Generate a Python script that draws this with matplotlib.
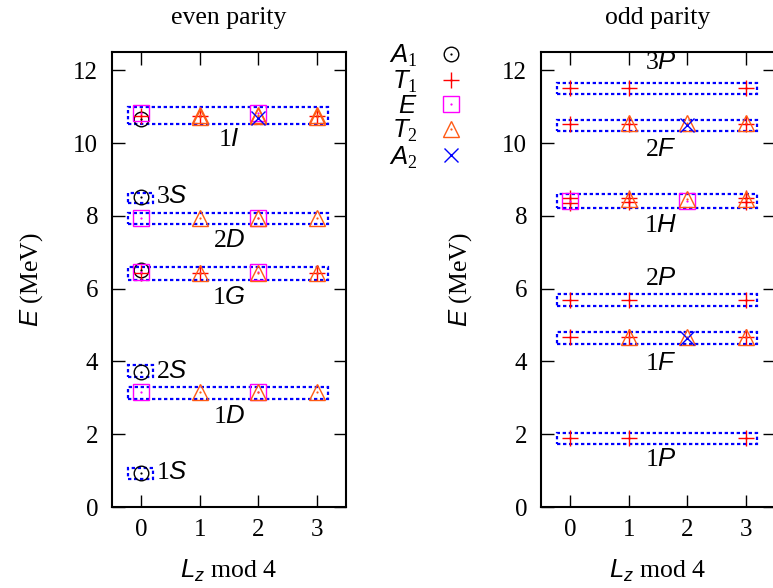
import matplotlib
matplotlib.use('Agg')
import matplotlib.pyplot as plt
from matplotlib.patches import Rectangle

plt.rcParams.update({
    'font.family': ['Liberation Serif', 'DejaVu Serif'],
    'mathtext.fontset': 'custom',
    'mathtext.rm': 'Liberation Serif',
    'mathtext.it': 'Liberation Sans:italic',
    'mathtext.bf': 'Liberation Serif:bold',
    'mathtext.sf': 'Liberation Sans',
    'font.size': 18,
})

# ---------------- data ----------------
irreps = ['A1', 'T1', 'E', 'T2', 'A2']
irrep_labels = ['$A_1$', '$T_1$', '$E$', '$T_2$', '$A_2$']
x_ticks = [0, 1, 2, 3]
y_ticks = [0, 2, 4, 6, 8, 10, 12]

# even parity: (Lz mod 4, energy in MeV)
even_A1_x = [0, 0, 0, 0, 0]
even_A1_E = [0.94, 3.72, 6.50, 8.52, 10.65]
even_T1_x = [0, 1, 3, 0, 1, 3]
even_T1_E = [6.42, 6.42, 6.42, 10.73, 10.73, 10.73]
even_E_x = [0, 2, 0, 2, 0, 2, 0, 2]
even_E_E = [3.15, 3.15, 6.45, 6.45, 7.95, 7.95, 10.83, 10.83]
even_T2_x = [1, 2, 3, 1, 2, 3, 1, 2, 3, 1, 2, 3, 1, 2, 3]
even_T2_E = [3.15, 3.15, 3.15, 6.42, 6.43, 6.42, 7.95, 7.95, 7.95,
             10.72, 10.74, 10.72, 10.76, 10.76, 10.76]
even_A2_x = [2]
even_A2_E = [10.70]

# odd parity
odd_A1_x = []
odd_A1_E = []
odd_T1_x = [0, 1, 3, 0, 1, 3, 0, 1, 3, 0, 1, 3, 0, 1, 3, 0, 1, 3, 0, 1, 3]
odd_T1_E = [1.90, 1.90, 1.90, 4.66, 4.66, 4.66, 5.68, 5.68, 5.68,
             8.50, 8.50, 8.50, 8.36, 8.38, 8.38, 10.52, 10.52, 10.52,
             11.52, 11.52, 11.52]
odd_E_x = [0, 2]
odd_E_E = [8.42, 8.42]
odd_T2_x = [1, 2, 3, 1, 2, 3, 1, 2, 3]
odd_T2_E = [4.68, 4.68, 4.68, 8.45, 8.45, 8.45, 10.54, 10.54, 10.54]
odd_A2_x = [2, 2]
odd_A2_E = [4.64, 10.50]

# multiplet names and their box ranges (energy)
even_names = ['1S', '2S', '1D', '1G', '2D', '3S', '1I']
even_box_lo = [0.77, 3.56, 2.98, 6.23, 7.78, 8.36, 10.51]
even_box_hi = [1.08, 3.89, 3.31, 6.59, 8.08, 8.63, 11.00]
even_box_xmax = [0.2, 0.2, 3.2, 3.2, 3.2, 0.2, 3.2]

odd_names = ['1P', '1F', '2P', '1H', '2F', '3P']
odd_box_lo = [1.74, 4.47, 5.52, 8.22, 10.32, 11.34]
odd_box_hi = [2.04, 4.80, 5.85, 8.61, 10.62, 11.64]
odd_box_xmax = [3.2, 3.2, 3.2, 3.2, 3.2, 3.2]

# ---------------- layout / style ----------------
W, H = 773, 588
fig = plt.figure(figsize=(W / 100, H / 100), dpi=100)
axL = fig.add_axes([112 / W, 81 / H, 234 / W, 455 / H])
axR = fig.add_axes([541 / W, 81 / H, 234 / W, 455 / H])

styles = {
    'A1': dict(marker='o', color='black', ms=10.5),
    'T1': dict(marker='+', color='#ff0000', ms=11.5),
    'E':  dict(marker='s', color='#ff00ff', ms=11.0),
    'T2': dict(marker='^', color='#ff5a14', ms=11.5),
    'A2': dict(marker='x', color='#0000ff', ms=10.5),
}

# label positions (layout): x, y, ha
even_label_pos = {'1S': (0.25, 0.94, 'left'), '2S': (0.25, 3.72, 'left'),
                  '1D': (1.5, 2.48, 'center'), '1G': (1.5, 5.74, 'center'),
                  '2D': (1.5, 7.31, 'center'), '3S': (0.25, 8.52, 'left'),
                  '1I': (1.5, 10.07, 'center')}
odd_label_pos = {'1P': (1.55, 1.30, 'center'), '1F': (1.55, 3.92, 'center'),
                 '2P': (1.55, 6.26, 'center'), '1H': (1.55, 7.72, 'center'),
                 '2F': (1.55, 9.82, 'center'), '3P': (1.55, 12.19, 'center')}


def draw(ax, series, names, lo, hi, xmax, label_pos, title):
    for n, a, b, xm in zip(names, lo, hi, xmax):
        ax.add_patch(Rectangle((-0.22, a), xm + 0.22, b - a, fill=False,
                               edgecolor='#0000ff', lw=1.6,
                               linestyle=(0, (1.5, 1.2)), zorder=2))
    handles = []
    for irr in irreps:
        xs, es = series[irr]
        st = styles[irr]
        h1, = ax.plot(xs, es, ls='none', marker=st['marker'], ms=st['ms'],
                      mfc='none', mec=st['color'], mew=1.0, zorder=3)
        h2, = ax.plot(xs, es, ls='none', marker='o', ms=1.6,
                      mfc=st['color'], mec=st['color'], mew=0, zorder=4)
        handles.append((h1, h2))
    for n in names:
        x, y, ha = label_pos[n]
        ax.text(x, y, r'$%s\mathit{%s}$' % (n[0], n[1]), ha=ha, va='center',
                fontsize=18.5)
    ax.set_xlim(-0.5, 3.5)
    ax.set_ylim(0, 12.5)
    ax.set_xticks(x_ticks)
    ax.set_yticks(y_ticks)
    ax.tick_params(direction='in', top=True, right=True, length=9,
                   width=1.0, labelsize=18)
    ax.tick_params(axis='x', pad=9)
    ax.tick_params(axis='y', pad=10)
    for s in ax.spines.values():
        s.set_linewidth(1.5)
    ax.set_xlabel('$L_z$ mod 4', fontsize=18.5, labelpad=12)
    ax.set_ylabel('$E$ (MeV)', fontsize=18.5, labelpad=20)
    ax.set_title(title, fontsize=18.5, pad=20)
    return handles


even_series = {'A1': (even_A1_x, even_A1_E), 'T1': (even_T1_x, even_T1_E),
               'E': (even_E_x, even_E_E), 'T2': (even_T2_x, even_T2_E),
               'A2': (even_A2_x, even_A2_E)}
odd_series = {'A1': (odd_A1_x, odd_A1_E), 'T1': (odd_T1_x, odd_T1_E),
              'E': (odd_E_x, odd_E_E), 'T2': (odd_T2_x, odd_T2_E),
              'A2': (odd_A2_x, odd_A2_E)}

hs = draw(axL, even_series, even_names, even_box_lo, even_box_hi,
          even_box_xmax, even_label_pos, 'even parity')
draw(axR, odd_series, odd_names, odd_box_lo, odd_box_hi, odd_box_xmax,
     odd_label_pos, 'odd parity')

fig.legend(hs, irrep_labels, loc='upper left',
           bbox_to_anchor=(376 / W, 1 - 30 / H), frameon=False,
           markerfirst=False, fontsize=18.5, labelspacing=0.0,
           handletextpad=0.7, handlelength=1.2, borderpad=0)

fig.savefig('out.png', dpi=100)
